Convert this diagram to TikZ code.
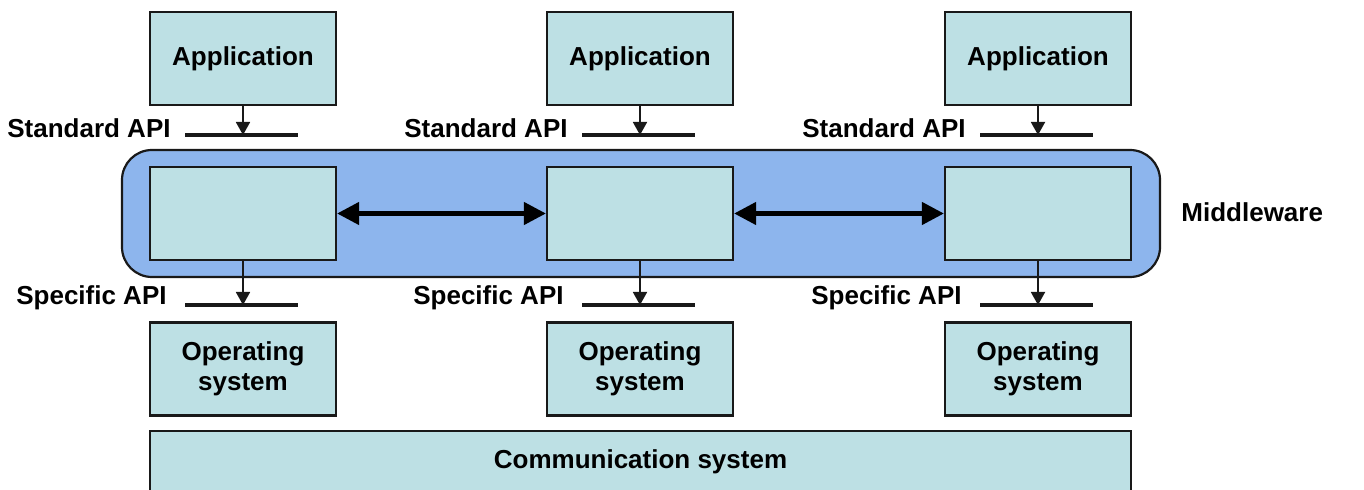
\documentclass[tikz,border=0pt]{standalone}
\usepackage{fontspec}
\setmainfont{Liberation Sans}
\usetikzlibrary{arrows.meta}
\definecolor{boxfill}{RGB}{189,224,228}
\definecolor{mwfill}{RGB}{141,181,237}
\definecolor{edge}{RGB}{25,25,25}
\tikzset{
  unit/.style={draw=edge, line width=1.1pt, fill=boxfill, minimum width=93pt,
    minimum height=46.5pt, inner sep=0pt, align=center,
    font=\fontsize{13pt}{15pt}\selectfont\bfseries},
  lbl/.style={font=\fontsize{13pt}{15pt}\selectfont\bfseries, inner sep=0pt},
  apiline/.style={draw=edge, line width=1.6pt},
  down/.style={draw=edge, line width=0.9pt, -{Triangle[length=6.5pt,width=7pt]}},
  link/.style={draw=black, line width=2.2pt,
    {Triangle[length=11pt,width=11pt]}-{Triangle[length=11pt,width=11pt]}},
}
\begin{document}
\begin{tikzpicture}[x=0.5pt,y=-0.5pt]
\clip (0,0) rectangle (1364,490);
\fill[white] (0,0) rectangle (1364,490);

% middleware band
\draw[draw=edge, line width=1.1pt, fill=mwfill, rounded corners=15pt]
  (122,150) rectangle (1160,277);
\node[lbl, anchor=west] (mwlabel) at (1181,212) {Middleware};

% communication system
\node[unit, minimum width=490.5pt, minimum height=31pt] (comm) at (640.5,462) {Communication system};

\foreach \i/\cx in {1/243, 2/640, 3/1038} {
  \node[unit] (app\i) at (\cx,58.5) {Application};
  \node[unit] (mw\i) at (\cx,213.5) {};
  \node[unit] (os\i) at (\cx,369) {Operating\\system};

  \coordinate (stdL\i) at (\cx-58,135);
  \coordinate (stdR\i) at (\cx+55,135);
  \coordinate (std\i) at (\cx,135);
  \coordinate (spcL\i) at (\cx-58,305);
  \coordinate (spcR\i) at (\cx+55,305);
  \coordinate (spc\i) at (\cx,305);

  \draw[apiline] (stdL\i) -- (stdR\i);
  \draw[apiline] (spcL\i) -- (spcR\i);
  \draw[down] (app\i.south) -- (std\i);
  \draw[down] (mw\i.south) -- (spc\i);

  \node[lbl, anchor=east] (stdtext\i) at ([xshift=-7pt,yshift=3.5pt]stdL\i) {Standard API};
  \node[lbl, anchor=east] (spctext\i) at ([xshift=-9pt,yshift=3.5pt]spcL\i) {Specific API};
}

\draw[link] (mw1.east) -- (mw2.west);
\draw[link] (mw2.east) -- (mw3.west);
\end{tikzpicture}
\end{document}
